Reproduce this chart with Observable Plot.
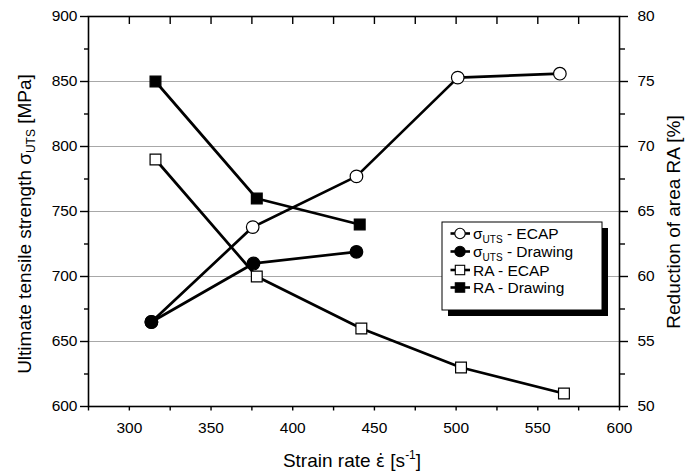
<!DOCTYPE html>
<html>
<head>
<meta charset="utf-8">
<script src="https://cdn.jsdelivr.net/npm/d3@7"></script>
<script src="https://cdn.jsdelivr.net/npm/@observablehq/plot@0.6"></script>
<style>
  html, body { margin: 0; padding: 0; background: white; }
  #chart { width: 697px; height: 472px; }
</style>
</head>
<body>
<div id="chart"></div>
<script>
// Strain rate (x) and values
const rateUtsEcap = [313.5, 375.5, 439, 501, 563.5];
const utsEcap     = [665, 738, 777, 853, 856];
const rateUtsDraw = [313.5, 376, 439];
const utsDraw     = [665, 710, 719];
const rateRaEcap  = [316, 378, 442, 503, 566];
const raEcap      = [69, 60, 56, 53, 51];
const rateRaDraw  = [316, 378, 441];
const raDraw      = [75, 66, 64];

const xTicks = [300, 350, 400, 450, 500, 550, 600];
const xMinor = [275, 325, 375, 425, 475, 525, 575];
const xTop   = [300, 325, 350, 375, 400, 425, 450, 475, 500, 525, 550, 575];
const yTicks = [600, 650, 700, 750, 800, 850, 900];
const yMinor = [625, 675, 725, 775, 825, 875];
const yGrid  = [650, 700, 750, 800, 850];
const raTickLabels = [50, 55, 60, 65, 70, 75, 80];

const legendLabels = [
  {main: "\u03C3", sub: "UTS", rest: " - ECAP", symbol: "circle", fill: "white"},
  {main: "\u03C3", sub: "UTS", rest: " - Drawing", symbol: "circle", fill: "black"},
  {main: "RA - ECAP", sub: "", rest: "", symbol: "square", fill: "white"},
  {main: "RA - Drawing", sub: "", rest: "", symbol: "square", fill: "black"}
];

// RA (right axis, 50..80) mapped onto left scale (600..900)
const raToY = v => 600 + (v - 50) * 10;

const toRows = (xs, ys, f = d => d) => xs.map((x, i) => ({x, y: f(ys[i])}));
const sUE = toRows(rateUtsEcap, utsEcap);
const sUD = toRows(rateUtsDraw, utsDraw);
const sRE = toRows(rateRaEcap, raEcap, raToY);
const sRD = toRows(rateRaDraw, raDraw, raToY);

const lineOpt = {x: "x", y: "y", stroke: "black", strokeWidth: 2.7};
const chart = Plot.plot({
  width: 697,
  height: 472,
  marginLeft: 88,
  marginRight: 78,
  marginTop: 16,
  marginBottom: 66,
  style: {fontFamily: "Liberation Sans, Arial, sans-serif", fontSize: "15.5px", color: "black", background: "white"},
  x: {domain: [275, 600]},
  y: {domain: [600, 900]},
  marks: [
    Plot.gridY(yGrid, {stroke: "#a8a8a8", strokeOpacity: 1, strokeWidth: 1}),
    Plot.axisX(xTicks, {anchor: "bottom", tickSize: 4.5, tickPadding: 11, label: null, strokeWidth: 1.4}),
    Plot.axisX(xMinor, {anchor: "bottom", tickSize: 4.5, text: null, label: null, strokeWidth: 1.4}),
    Plot.axisX(xTop, {anchor: "top", tickSize: 7, dy: 7, text: null, label: null, strokeWidth: 1.4}),
    Plot.axisY(yTicks, {anchor: "left", tickSize: 8, tickPadding: 3, label: null, strokeWidth: 1.4}),
    Plot.axisY(yMinor, {anchor: "left", tickSize: 4, text: null, label: null, strokeWidth: 1.4}),
    Plot.axisY(yTicks, {anchor: "right", tickSize: 8, tickPadding: 10, label: null, strokeWidth: 1.4,
      tickFormat: d => String(raTickLabels[yTicks.indexOf(d)])}),
    Plot.axisY(yMinor, {anchor: "right", tickSize: 5, text: null, label: null, strokeWidth: 1.4}),
    Plot.frame({stroke: "black", strokeWidth: 1.6}),
    Plot.line(sUE, lineOpt),
    Plot.line(sUD, lineOpt),
    Plot.line(sRE, lineOpt),
    Plot.line(sRD, lineOpt),
    Plot.dot(sUE, {x: "x", y: "y", r: 6.3, fill: "white", stroke: "black", strokeWidth: 1.2}),
    Plot.dot(sUD, {x: "x", y: "y", r: 6.3, fill: "black", stroke: "black", strokeWidth: 1.2}),
    Plot.dot(sRE, {x: "x", y: "y", r: 6.1, symbol: "square", fill: "white", stroke: "black", strokeWidth: 1.2}),
    Plot.dot(sRD, {x: "x", y: "y", r: 6.1, symbol: "square", fill: "black", stroke: "black", strokeWidth: 1.2})
  ]
});
document.getElementById("chart").appendChild(chart);

const svg = d3.select(chart);
const titleSize = 19;
// Left title
const lt = svg.append("text")
  .attr("transform", "translate(31,224) rotate(-90)")
  .attr("text-anchor", "middle")
  .attr("font-size", titleSize).attr("fill", "black");
lt.append("tspan").text("Ultimate tensile strength \u03C3");
lt.append("tspan").attr("font-size", 12).attr("dy", 4).text("UTS");
lt.append("tspan").attr("dy", -4).text(" [MPa]");
// Right title
svg.append("text")
  .attr("transform", "translate(680,222) rotate(-90)")
  .attr("text-anchor", "middle")
  .attr("font-size", titleSize).attr("fill", "black")
  .text("Reduction of area RA [%]");
// Bottom title
const bt = svg.append("text")
  .attr("x", 352).attr("y", 467)
  .attr("text-anchor", "middle")
  .attr("font-size", titleSize).attr("fill", "black");
bt.append("tspan").text("Strain rate ");
bt.append("tspan").attr("font-family", "DejaVu Sans").attr("font-size", 17).text("\u03B5\u0307");
bt.append("tspan").text(" [s");
bt.append("tspan").attr("font-size", 12).attr("dy", -8).text("-1");
bt.append("tspan").attr("dy", 8).text("]");

// Legend
const lg = svg.append("g").attr("text-anchor", "start");
const bx = 442, by = 222, bw = 160, bh = 88;
lg.append("rect").attr("x", bx + 6).attr("y", by + 6).attr("width", bw).attr("height", bh).attr("fill", "black");
lg.append("rect").attr("x", bx).attr("y", by).attr("width", bw).attr("height", bh)
  .attr("fill", "white").attr("stroke", "black").attr("stroke-width", 1);
const rowsY = [233.5, 251.5, 270, 287.5];
legendLabels.forEach((d, i) => {
  const y = rowsY[i];
  lg.append("line").attr("x1", 450.5).attr("x2", 470).attr("y1", y).attr("y2", y)
    .attr("stroke", "black").attr("stroke-width", 2.6);
  if (d.symbol === "circle") {
    lg.append("circle").attr("cx", 460).attr("cy", y).attr("r", 5.2)
      .attr("fill", d.fill).attr("stroke", "black").attr("stroke-width", 1.1);
  } else {
    lg.append("rect").attr("x", 455.3).attr("y", y - 4.7).attr("width", 9.4).attr("height", 9.4)
      .attr("fill", d.fill).attr("stroke", "black").attr("stroke-width", 1.1);
  }
  const t = lg.append("text").attr("x", 473).attr("y", y + 5.5).attr("font-size", 15.5)
    .attr("fill", "black").attr("text-anchor", "start");
  t.append("tspan").text(d.main);
  if (d.sub) {
    t.append("tspan").attr("font-size", 10).attr("dy", 4).text(d.sub);
    t.append("tspan").attr("dy", -4).text(d.rest);
  }
});
</script>
</body>
</html>
